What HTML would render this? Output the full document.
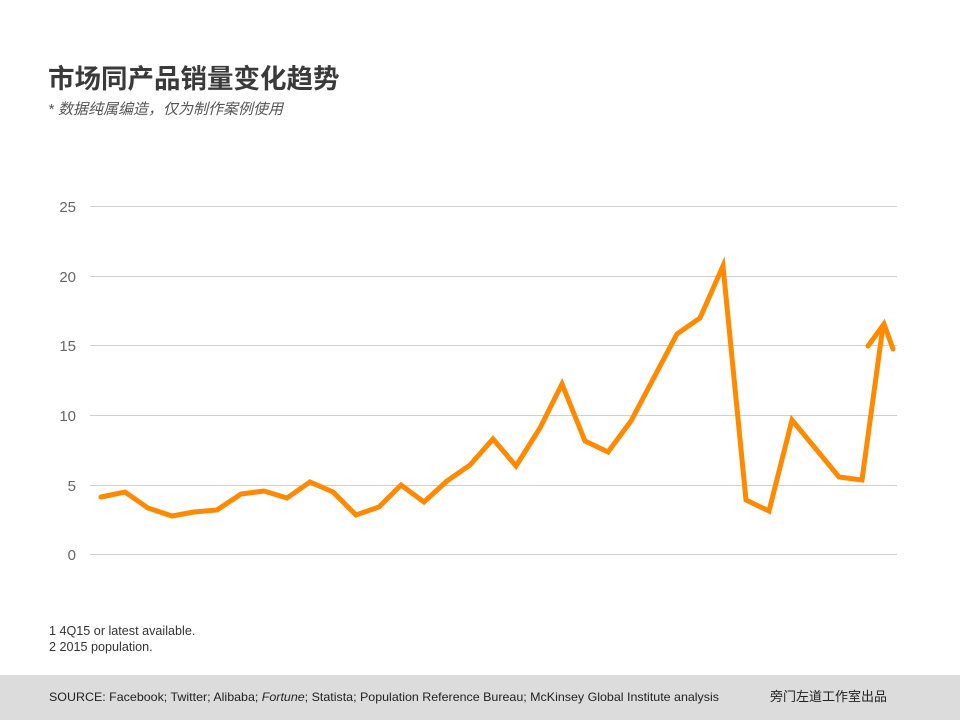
<!DOCTYPE html>
<html><head><meta charset="utf-8"><style>
body{margin:0;width:960px;height:720px;background:#fff;overflow:hidden;font-family:"Liberation Sans","Noto Sans CJK SC",sans-serif;}
</style></head><body>
<svg width="960" height="720" xmlns="http://www.w3.org/2000/svg" style="position:absolute;left:0;top:0">
<text x="48" y="88" font-family="'Liberation Sans','Noto Sans CJK SC',sans-serif" font-size="26.5" font-weight="bold" fill="#3a3a3a">市场同产品销量变化趋势</text>
<text x="48" y="114" font-family="'Liberation Sans','Noto Sans CJK SC',sans-serif" font-size="15" font-style="italic" fill="#555">* 数据纯属编造，仅为制作案例使用</text>
<g stroke="#d0d0d0" stroke-width="1">
<line x1="90" y1="206.5" x2="897" y2="206.5"/>
<line x1="90" y1="276.5" x2="897" y2="276.5"/>
<line x1="90" y1="345.5" x2="897" y2="345.5"/>
<line x1="90" y1="415.5" x2="897" y2="415.5"/>
<line x1="90" y1="485.5" x2="897" y2="485.5"/>
<line x1="90" y1="554.5" x2="897" y2="554.5"/>
</g>
<g font-family="'Liberation Sans',sans-serif" font-size="15" fill="#666" text-anchor="end">
<text x="76" y="212">25</text><text x="76" y="282">20</text><text x="76" y="351">15</text>
<text x="76" y="421">10</text><text x="76" y="491">5</text><text x="76" y="560">0</text>
</g>
<polyline fill="none" stroke="#ff8a00" stroke-width="5" stroke-linejoin="miter" stroke-linecap="round"
points="101,497 125,492 148,508 172,516 194,512 217,510 241,494 264,491 287,498 310,482 333,492 356,515 379,507 401,485 424,502 447,481 470,465 493,439 516,466 540,428 562,384 585,441 608,452 631,421 677,334 700,318 723,266 746,500 769,511 792,420 839,477 862,480 883,326"/>
<polyline fill="none" stroke="#ff8a00" stroke-width="5" stroke-linecap="round" stroke-linejoin="miter" points="868,346 884,324 893,349"/>
<g font-family="'Liberation Sans',sans-serif" font-size="12.6" fill="#333">
<text x="49" y="635">1 4Q15 or latest available.</text>
<text x="49" y="651">2 2015 population.</text>
</g>
<rect x="0" y="675" width="960" height="45" fill="#dcdcdc"/>
<text x="49" y="701" font-family="'Liberation Sans',sans-serif" font-size="12" fill="#222" textLength="670" lengthAdjust="spacingAndGlyphs">SOURCE: Facebook; Twitter; Alibaba; <tspan font-style="italic">Fortune</tspan>; Statista; Population Reference Bureau; McKinsey Global Institute analysis</text>
<text x="770" y="701" font-family="'Noto Sans CJK SC',sans-serif" font-size="13" fill="#222">旁门左道工作室出品</text>
</svg>
</body></html>
